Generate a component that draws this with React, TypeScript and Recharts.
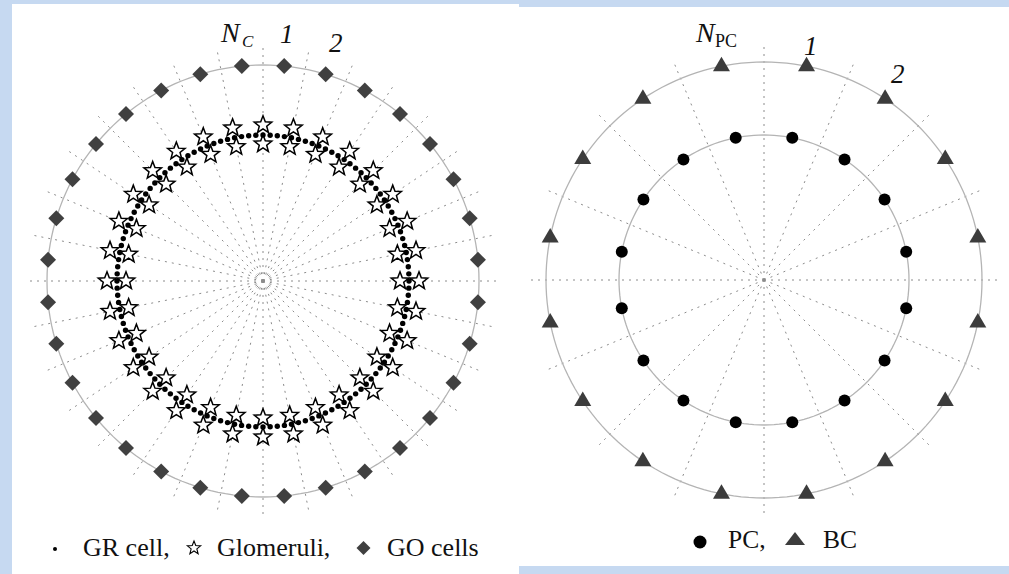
import React from "react";
import { ScatterChart, Scatter, XAxis, YAxis } from "recharts";

// left panel: granular layer
const goCount = 32; // GO cells on the outer ring
const goRadius = 216;
const grCount = 128; // GR cells on the inner ring
const grRadius = 146;
const glomCount = 32; // glomeruli, one pair per spoke
const glomRadii = [137, 156];
const leftSpokeCount = 32;
const leftSpokeLength = 234;

// right panel: molecular layer
const bcCount = 16;
const bcRadius = 218;
const pcCount = 16;
const pcRadius = 145;
const rightSpokeCount = 16;
const rightSpokeLength = 238;

const leftLabels = ["N", "C", "1", "2"];
const rightLabels = ["N", "PC", "1", "2"];
const leftLegend = ["GR cell,", "Glomeruli,", "GO cells"];
const rightLegend = ["PC,", "BC"];

type Pt = { x: number; y: number };

// angle in degrees, clockwise from the top
function ring(count: number, radius: number, offset: number): Pt[] {
    const out: Pt[] = [];
    for (let i = 0; i < count; i++) {
        const a = ((offset + (i * 360) / count) * Math.PI) / 180;
        out.push({ x: radius * Math.sin(a), y: radius * Math.cos(a) });
    }
    return out;
}

function outline(radius: number): Pt[] {
    const pts = ring(180, radius, 0);
    return [...pts, pts[0]];
}

function starPath(cx: number, cy: number, R: number, r: number) {
    let d = "";
    for (let i = 0; i < 10; i++) {
        const rad = i % 2 === 0 ? R : r;
        const a = (i * Math.PI) / 5;
        d += (i === 0 ? "M" : "L") + (cx + rad * Math.sin(a)).toFixed(2) + "," + (cy - rad * Math.cos(a)).toFixed(2);
    }
    return d + "Z";
}

const Empty = () => <g />;
const Diamond = (p: any) => (
    <path d={`M${p.cx},${p.cy - 8}L${p.cx + 8},${p.cy}L${p.cx},${p.cy + 8}L${p.cx - 8},${p.cy}Z`} fill="#404040" />
);
const Star = (p: any) => <path d={starPath(p.cx, p.cy, 9.2, 3.9)} fill="#fff" stroke="#000" strokeWidth={1.5} strokeLinejoin="miter" />;
const Dot = (p: any) => <circle cx={p.cx} cy={p.cy} r={2.7} fill="#000" />;
const PcDot = (p: any) => <circle cx={p.cx} cy={p.cy} r={6} fill="#000" />;
const Triangle = (p: any) => (
    <path d={`M${p.cx},${p.cy - 9.5}L${p.cx + 8.5},${p.cy + 5}L${p.cx - 8.5},${p.cy + 5}Z`} fill="#3c3c3c" />
);

const ringStroke = { stroke: "#b4b4b4", strokeWidth: 1.3 };
const spokeStroke = { stroke: "#8c8c8c", strokeWidth: 1, strokeDasharray: "2 5" };

function Spokes({ count, length }: { count: number; length: number }) {
    return (
        <>
            {ring(count, length, 0).map((end, i) => (
                <Scatter
                    key={"s" + i}
                    data={[{ x: 0, y: 0 }, end]}
                    line={spokeStroke}
                    lineType="joint"
                    shape={Empty}
                    isAnimationActive={false}
                />
            ))}
        </>
    );
}

function LeftChart() {
    return (
        <ScatterChart width={507} height={570} margin={{ top: 0, right: 0, bottom: 0, left: 0 }}>
            <XAxis type="number" dataKey="x" domain={[-251, 256]} hide allowDataOverflow />
            <YAxis type="number" dataKey="y" domain={[-293, 277]} hide allowDataOverflow />
            {Spokes({ count: leftSpokeCount, length: leftSpokeLength })}
            <Scatter data={outline(goRadius)} line={ringStroke} lineType="joint" shape={Empty} isAnimationActive={false} />
            <Scatter data={ring(goCount, goRadius, 360 / goCount / 2)} shape={Diamond} isAnimationActive={false} />
            <Scatter data={ring(glomCount, glomRadii[0], 0)} shape={Star} isAnimationActive={false} />
            <Scatter data={ring(glomCount, glomRadii[1], 0)} shape={Star} isAnimationActive={false} />
            <Scatter data={ring(grCount, grRadius, 0)} shape={Dot} isAnimationActive={false} />
        </ScatterChart>
    );
}

function RightChart() {
    return (
        <ScatterChart width={490} height={559} margin={{ top: 0, right: 0, bottom: 0, left: 0 }}>
            <XAxis type="number" dataKey="x" domain={[-245, 245]} hide allowDataOverflow />
            <YAxis type="number" dataKey="y" domain={[-286, 273]} hide allowDataOverflow />
            {Spokes({ count: rightSpokeCount, length: rightSpokeLength })}
            <Scatter data={outline(bcRadius)} line={ringStroke} lineType="joint" shape={Empty} isAnimationActive={false} />
            <Scatter data={outline(pcRadius)} line={ringStroke} lineType="joint" shape={Empty} isAnimationActive={false} />
            <Scatter data={ring(bcCount, bcRadius, 360 / bcCount / 2)} shape={Triangle} isAnimationActive={false} />
            <Scatter data={ring(pcCount, pcRadius, 360 / pcCount / 2)} shape={PcDot} isAnimationActive={false} />
        </ScatterChart>
    );
}

export default function App() {
    const serif = { fontFamily: "Liberation Serif" };
    return (
        <div style={{ position: "absolute", left: 0, top: 0, width: 1009, height: 574, background: "#c6d9f1", overflow: "hidden" }}>
            <div style={{ position: "absolute", left: 12, top: 4, width: 507, height: 570, background: "#fff" }}>
                <LeftChart />
            </div>
            <div style={{ position: "absolute", left: 519, top: 7, width: 490, height: 559, background: "#fff" }}>
                <RightChart />
            </div>
            <svg width={1009} height={574} style={{ position: "absolute", left: 0, top: 0, pointerEvents: "none" }}>
                <g style={serif} fill="#111">
                    {/* left labels */}
                    <text x={221} y={42} fontSize={28} fontStyle="italic">{leftLabels[0]}</text>
                    <text x={242} y={47} fontSize={17} fontStyle="italic">{leftLabels[1]}</text>
                    <text x={280} y={43} fontSize={27} fontStyle="italic">{leftLabels[2]}</text>
                    <text x={329} y={52} fontSize={27} fontStyle="italic">{leftLabels[3]}</text>
                    {/* right labels */}
                    <text x={696} y={42} fontSize={28} fontStyle="italic">{rightLabels[0]}</text>
                    <text x={715} y={47} fontSize={18}>{rightLabels[1]}</text>
                    <text x={804} y={55} fontSize={27} fontStyle="italic">{rightLabels[2]}</text>
                    <text x={891} y={83} fontSize={27} fontStyle="italic">{rightLabels[3]}</text>
                    {/* left legend */}
                    <circle cx={55} cy={549} r={2} fill="#000" />
                    <text x={83} y={556} fontSize={26}>{leftLegend[0]}</text>
                    <path d={starPath(194, 548, 7, 3)} fill="#fff" stroke="#000" strokeWidth={1.1} />
                    <text x={217} y={556} fontSize={26}>{leftLegend[1]}</text>
                    <path d="M363.5,541L370.5,548L363.5,555L356.5,548Z" fill="#404040" />
                    <text x={387} y={556} fontSize={26}>{leftLegend[2]}</text>
                    {/* right legend */}
                    <circle cx={700} cy={542} r={6.5} fill="#000" />
                    <text x={728} y={548} fontSize={25.5}>{rightLegend[0]}</text>
                    <path d="M795,532L805,545L785,545Z" fill="#3c3c3c" />
                    <text x={823} y={548} fontSize={25.5}>{rightLegend[1]}</text>
                </g>
            </svg>
        </div>
    );
}
